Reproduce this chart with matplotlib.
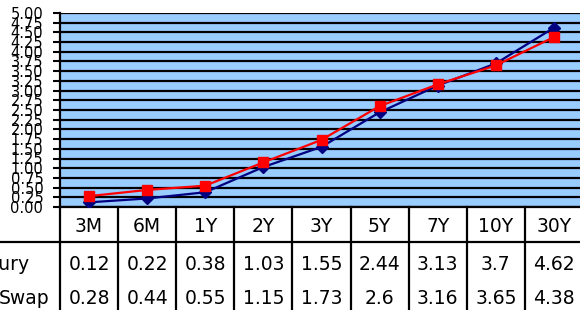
import matplotlib
matplotlib.use("Agg")
import numpy as np
from matplotlib import pyplot as plt
from matplotlib.transforms import blended_transform_factory

# chart data
tenors = ["3M", "6M", "1Y", "2Y", "3Y", "5Y", "7Y", "10Y", "30Y"]
treasury = [0.12, 0.22, 0.38, 1.03, 1.55, 2.44, 3.13, 3.7, 4.62]
swap = [0.28, 0.44, 0.55, 1.15, 1.73, 2.6, 3.16, 3.65, 4.38]
series_names = ["Treasury", "Swap"]

W, H = 580, 310
fig = plt.figure(figsize=(W / 100, H / 100), dpi=100)
fig.patch.set_facecolor("white")

# plot area in pixels: left 60, right 583, top 13, bottom 207
left, right, top, bottom = 60, 583, 13, 207
ax = fig.add_axes([left / W, 1 - bottom / H, (right - left) / W, (bottom - top) / H])
ax.set_facecolor("#99ccff")

x = np.arange(len(tenors))
ax.plot(x, treasury, color="#000080", lw=1.6, marker="D", ms=6.5,
        mfc="#000080", mec="#000080", zorder=3)
ax.plot(x, swap, color="#ff0000", lw=1.6, marker="s", ms=7,
        mfc="#ff0000", mec="#ff0000", zorder=4)

ax.set_xlim(-0.5, len(tenors) - 0.5)
ax.set_ylim(0, 5)
yt = np.arange(0, 5.01, 0.25)
ax.set_yticks(yt)
ax.set_yticklabels([f"{v:.2f}" for v in yt], fontsize=10.5)
ax.tick_params(axis="y", length=5, width=1.5, pad=7, color="black")
ax.set_xticks([])
for v in yt:
    ax.axhline(v, color="black", lw=1.6, zorder=1)
for s in ["top", "right"]:
    ax.spines[s].set_visible(False)
ax.spines["left"].set_linewidth(1.6)
ax.spines["bottom"].set_linewidth(1.6)

# data table under the plot
tr = blended_transform_factory(ax.transData, fig.transFigure)
fy = lambda px: 1 - px / H
fx = lambda px: px / W

def hline(py, x0, x1):
    fig.add_artist(plt.Line2D([fx(x0), fx(x1)], [fy(py), fy(py)], color="black",
                              lw=1.6, transform=fig.transFigure))

def vline(px, y0, y1):
    fig.add_artist(plt.Line2D([fx(px), fx(px)], [fy(y0), fy(y1)], color="black",
                              lw=1.6, transform=fig.transFigure))

hline(242, 0, W + 5)
cell = (right - left) / len(tenors)
for i in range(len(tenors) + 1):
    vline(left + i * cell, bottom, H + 5)

fs = 13.5
for i, t in enumerate(tenors):
    fig.text(i, fy(227), t, transform=tr, ha="center", va="center", fontsize=fs)
    fig.text(i, fy(265), f"{treasury[i]:g}", transform=tr, ha="center", va="center", fontsize=fs)
    fig.text(i, fy(298), f"{swap[i]:g}", transform=tr, ha="center", va="center", fontsize=fs)

fig.text(fx(29), fy(265), series_names[0], ha="right", va="center", fontsize=fs)
fig.text(fx(49), fy(298), series_names[1], ha="right", va="center", fontsize=fs)

fig.savefig("out.png", dpi=100)
plt.close()
